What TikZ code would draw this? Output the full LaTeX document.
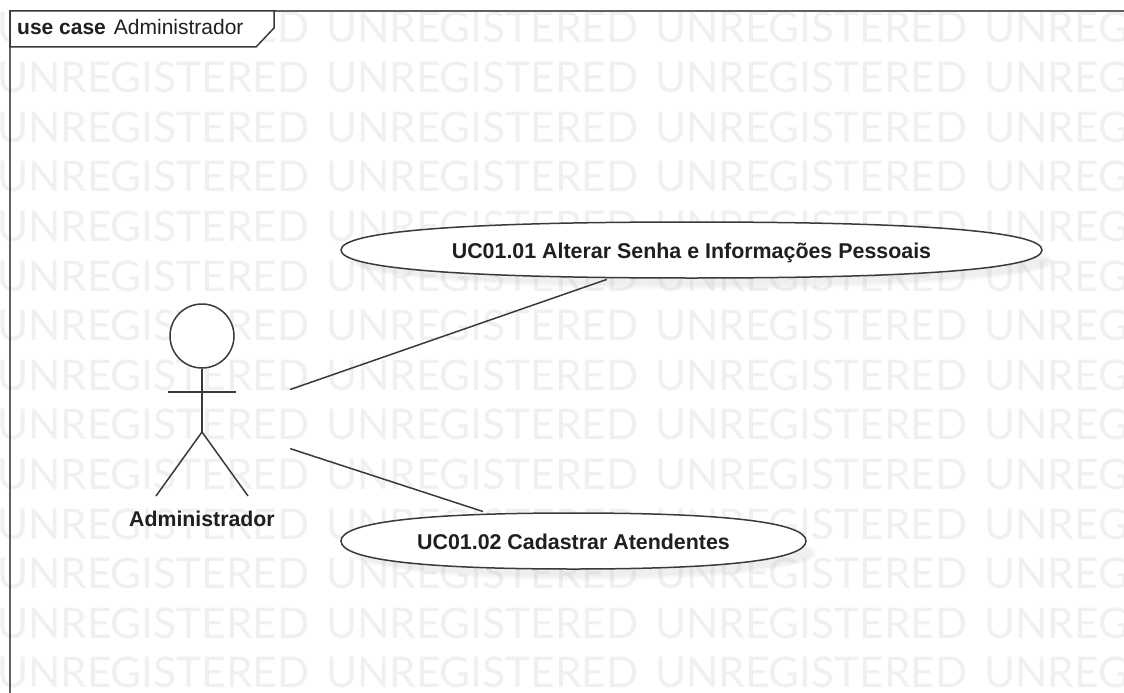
\documentclass[tikz,border=0pt]{standalone}
\usepackage{fontspec}
\setmainfont{Liberation Sans}
\newfontfamily\wmfont{Lato}
\usetikzlibrary{shapes.geometric}
\definecolor{ink}{HTML}{3A3A3A}
\definecolor{wmark}{HTML}{F0F0F0}
\definecolor{shade}{HTML}{808080}
\tikzset{
  x=1pt,y=-1pt,
  line/.style={draw=ink,line width=1.5pt},
  wm/.style={anchor=base west,inner sep=0pt,text=wmark,font=\wmfont\fontsize{42.3}{42}\selectfont},
  usecase/.style={ellipse,inner sep=0pt,text height=16.6pt,text depth=0pt,font=\bfseries\fontsize{21.4}{24}\selectfont,text=black!88},
  shadowpart/.style={fill=shade,opacity=.028,draw=none},
  actorbox/.style={inner sep=0pt,minimum width=176pt,minimum height=240pt,draw=none},
}
% outline of a use case: centre x, centre y, half width, half height
\newcommand{\ucoutline}[4]{%
  \draw[line,fill=white] ({#1-#3},#2)
    .. controls ({#1-#3},{#2-.66*#4}) and ({#1-.66*#3},{#2-#4}) .. (#1,{#2-#4})
    .. controls ({#1+.66*#3},{#2-#4}) and ({#1+#3},{#2-.66*#4}) .. ({#1+#3},#2)
    .. controls ({#1+#3},{#2+.66*#4}) and ({#1+.66*#3},{#2+#4}) .. (#1,{#2+#4})
    .. controls ({#1-.66*#3},{#2+#4}) and ({#1-#3},{#2+.66*#4}) .. ({#1-#3},#2) -- cycle;}
\begin{document}
\begin{tikzpicture}
\useasboundingbox (0,0) rectangle (1124,693);
\begin{scope}
\clip (0,0) rectangle (1124,693);
\fill[white] (0,0) rectangle (1124,693);
\foreach \r in {0,...,13}{
  \foreach \c in {0,...,3}{
    \node[wm] (wm\r-\c) at ({-3+329*\c},{43+49.6*\r}) {UNREGISTERED};
  }
}
% frame
\draw[line,draw=ink!80] (10,693) -- (10,11) -- (1124,11);
\end{scope}
% shadows
\foreach \g in {0,1,2,3}{
  \fill[shadowpart] (702.5,262) ellipse ({351.5-1.5*\g} and {28-1.5*\g});
  \fill[shadowpart] (584.5,553) ellipse ({232.5-1.5*\g} and {28-1.5*\g});
}
% frame tab
\draw[line,fill=white] (10,11) -- (274,11) -- (274,28) -- (256,47) -- (10,47) -- cycle;
\node[anchor=base west,inner sep=0pt,font=\fontsize{21}{24}\selectfont,text=black!88] (title) at (17,35) {\textbf{use case}\hspace{8pt}Administrador};
% use cases
\ucoutline{691.5}{250}{350.5}{28}
\ucoutline{573.5}{541}{232.5}{28}
\node[usecase,minimum width=701pt,minimum height=56pt] (uc1) at (691.5,250) {UC01.01 Alterar Senha e Informações Pessoais};
\node[usecase,minimum width=465pt,minimum height=56pt] (uc2) at (573.5,541) {UC01.02 Cadastrar Atendentes};
% actor
\node[actorbox] (actor) at (202,420) {};
\node[circle,line,fill=white,minimum size=64pt,inner sep=0pt] (head) at (202,336) {};
\coordinate (hip) at (202,432);
\coordinate (armL) at (168,392);
\coordinate (armR) at (236,392);
\coordinate (footL) at (156,496);
\coordinate (footR) at (248,496);
\draw[line] (head) -- (hip);
\draw[line] (armL) -- (armR);
\draw[line] (footL) -- (hip) -- (footR);
\node[anchor=base,inner sep=0pt,font=\bfseries\fontsize{21.3}{24}\selectfont,text=black!88] (actorlabel) at (202,526.5) {Administrador};
% connectors
\draw[line,shorten >=6pt] (actor) -- (uc1);
\draw[line,shorten >=10pt] (actor) -- (uc2);
\end{tikzpicture}
\end{document}
